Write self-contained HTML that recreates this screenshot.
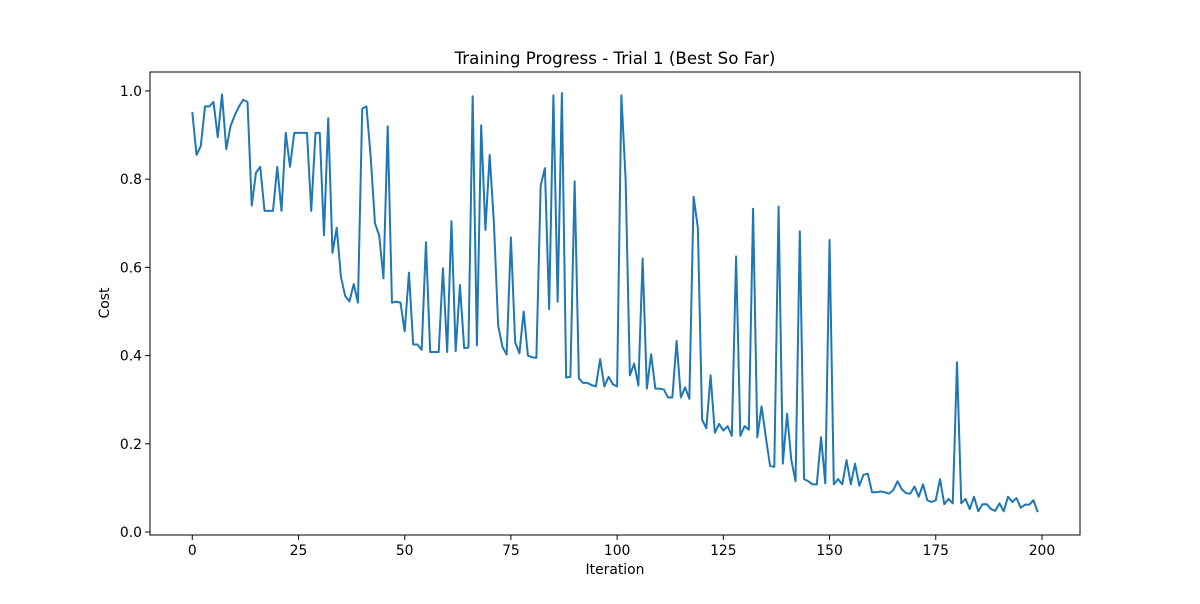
<!DOCTYPE html>
<html><head><meta charset="utf-8"><style>
body{margin:0;background:#fff;font-family:"DejaVu Sans","Liberation Sans",sans-serif}
</style></head><body>
<svg id="chart" width="1200" height="600" xmlns="http://www.w3.org/2000/svg" font-family="DejaVu Sans, Liberation Sans, sans-serif">
<rect width="1200" height="600" fill="#fff"/>
<text x="615" y="64" text-anchor="middle" font-size="16.7" fill="#000">Training Progress - Trial 1 (Best So Far)</text>
<text x="615" y="574" text-anchor="middle" font-size="13.9" fill="#000">Iteration</text>
<text x="109" y="303" text-anchor="middle" font-size="13.9" fill="#000" transform="rotate(-90 109 303)">Cost</text>
<g id="ticks"></g>
<path id="line" fill="none" stroke="#1f77b4" stroke-width="2" stroke-linejoin="round"/>
<rect x="150" y="72" width="930" height="463" fill="none" stroke="#000" stroke-width="1"/>
</svg>
<script>
const xTicks=[0,25,50,75,100,125,150,175,200];
const yTicks=[0.0,0.2,0.4,0.6,0.8,1.0];
const yTickLabels=["0.0","0.2","0.4","0.6","0.8","1.0"];
const cost=[0.952,0.855,0.875,0.965,0.965,0.975,0.895,0.992,0.868,0.92,0.945,0.965,0.98,0.975,0.74,0.815,0.828,0.728,0.728,0.728,
0.828,0.728,0.905,0.828,0.905,0.905,0.905,0.905,0.728,0.905,0.905,0.673,0.938,0.633,0.69,0.578,0.535,0.523,0.562,0.52,
0.96,0.965,0.85,0.7,0.672,0.575,0.92,0.52,0.522,0.52,0.455,0.588,0.425,0.425,0.413,0.657,0.408,0.408,0.408,0.598,
0.408,0.705,0.41,0.56,0.417,0.418,0.988,0.423,0.922,0.685,0.855,0.7,0.468,0.42,0.402,0.668,0.43,0.405,0.5,0.4,
0.396,0.395,0.785,0.825,0.505,0.99,0.522,0.995,0.35,0.352,0.795,0.348,0.338,0.338,0.333,0.33,0.392,0.33,0.352,0.335,
0.33,0.99,0.8,0.355,0.382,0.332,0.62,0.325,0.403,0.325,0.325,0.323,0.305,0.305,0.433,0.305,0.328,0.302,0.76,0.69,
0.255,0.235,0.355,0.225,0.245,0.23,0.24,0.218,0.625,0.218,0.24,0.232,0.733,0.215,0.285,0.215,0.15,0.148,0.738,0.155,
0.268,0.163,0.115,0.682,0.12,0.115,0.108,0.108,0.215,0.11,0.662,0.108,0.12,0.108,0.163,0.108,0.155,0.105,0.13,0.132,
0.09,0.09,0.092,0.09,0.087,0.095,0.115,0.097,0.088,0.087,0.103,0.08,0.108,0.072,0.068,0.072,0.12,0.063,0.075,0.065,
0.385,0.065,0.075,0.052,0.08,0.047,0.063,0.063,0.052,0.048,0.065,0.047,0.08,0.068,0.077,0.055,0.062,0.062,0.072,0.045];

const X0=150,X1=1080,Y0=535,Y1=72;
const xMin=-9.95,xMax=208.95,yMin=-0.0068,yMax=1.043;
function sx(v){return X0+(v-xMin)/(xMax-xMin)*(X1-X0);}
function sy(v){return Y0-(v-yMin)/(yMax-yMin)*(Y0-Y1);}
const NS="http://www.w3.org/2000/svg";
const g=document.getElementById('ticks');
function mk(tag,attrs){const e=document.createElementNS(NS,tag);for(const k in attrs)e.setAttribute(k,attrs[k]);return e;}
xTicks.forEach(t=>{
  const x=sx(t);
  const l=mk('line',{x1:x,x2:x,y1:Y0,y2:Y0+4.9,stroke:'#000'});
  
  
  g.appendChild(l);
  const tx=mk('text',{x:x,y:Y0+20,'text-anchor':'middle','font-size':'13.9'});
  
  
  tx.textContent=t;g.appendChild(tx);
});
yTicks.forEach((t,i)=>{
  const y=sy(t);
  const l=mk('line',{x1:X0-4.9,x2:X0,y1:y,y2:y,stroke:'#000'});
  
  
  g.appendChild(l);
  const tx=mk('text',{x:X0-8,y:y+5,'text-anchor':'end','font-size':'13.9'});
  
  
  tx.textContent=yTickLabels[i];g.appendChild(tx);
});
document.getElementById('line').setAttribute('d',cost.map((v,i)=>(i?'L':'M')+sx(i).toFixed(2)+','+sy(v).toFixed(2)).join(''));
</script>
</body></html>
